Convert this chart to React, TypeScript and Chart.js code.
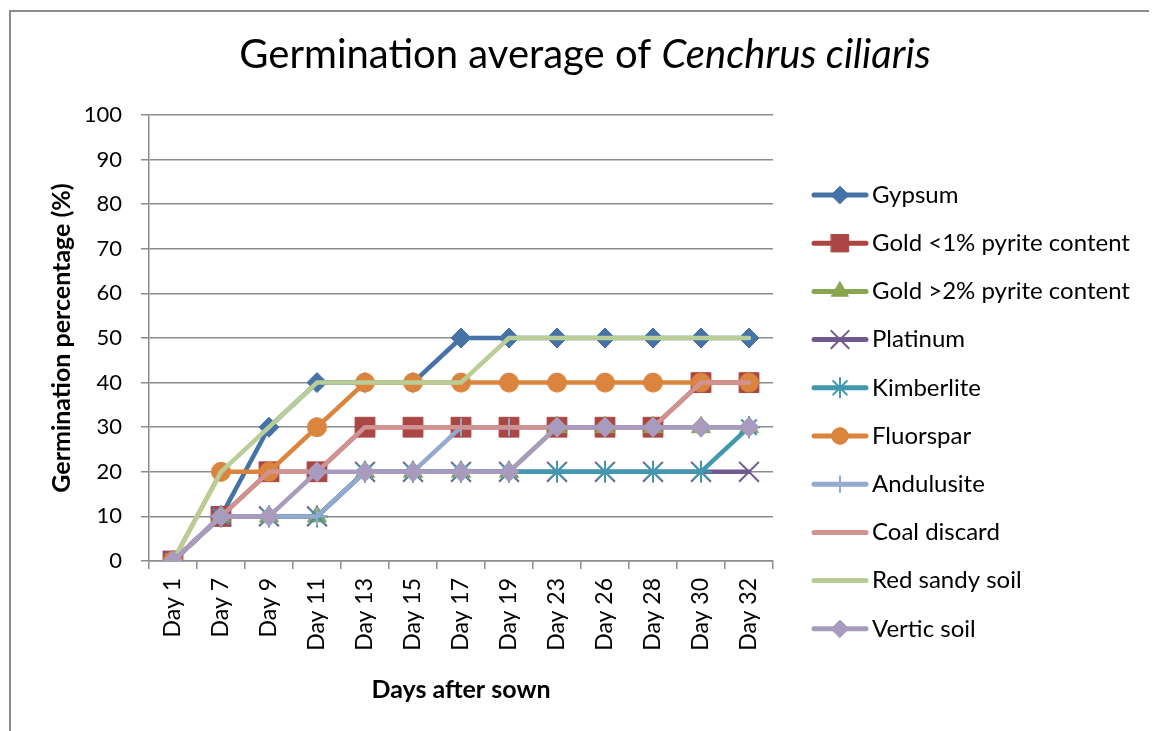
import React, { useEffect, useRef } from 'react';
import { Chart, registerables } from 'chart.js';
import { drawPoint } from 'chart.js/helpers';

Chart.register(...registerables);

const days = ['Day 1', 'Day 7', 'Day 9', 'Day 11', 'Day 13', 'Day 15', 'Day 17', 'Day 19', 'Day 23', 'Day 26', 'Day 28', 'Day 30', 'Day 32'];
const gypsum = [0, 10, 30, 40, 40, 40, 50, 50, 50, 50, 50, 50, 50];
const goldLow = [0, 10, 20, 20, 30, 30, 30, 30, 30, 30, 30, 40, 40];
const goldHigh = [0, 10, 10, 10, 20, 20, 20, 20, 30, 30, 30, 30, 30];
const platinum = [0, 10, 10, 10, 20, 20, 20, 20, 20, 20, 20, 20, 20];
const kimberlite = [0, 10, 10, 10, 20, 20, 20, 20, 20, 20, 20, 20, 30];
const fluorspar = [0, 20, 20, 30, 40, 40, 40, 40, 40, 40, 40, 40, 40];
const andulusite = [0, 10, 10, 10, 20, 20, 30, 30, 30, 30, 30, 30, 30];
const coalDiscard = [0, 10, 20, 20, 30, 30, 30, 30, 30, 30, 30, 40, 40];
const redSandy = [0, 20, 30, 40, 40, 40, 40, 50, 50, 50, 50, 50, 50];
const verticSoil = [0, 10, 10, 20, 20, 20, 20, 20, 30, 30, 30, 30, 30];
const yTicks = [0, 10, 20, 30, 40, 50, 60, 70, 80, 90, 100];

const seriesNames = ['Gypsum', 'Gold <1% pyrite content', 'Gold >2% pyrite content', 'Platinum', 'Kimberlite', 'Fluorspar', 'Andulusite', 'Coal discard', 'Red sandy soil', 'Vertic soil'];
const seriesValues = [gypsum, goldLow, goldHigh, platinum, kimberlite, fluorspar, andulusite, coalDiscard, redSandy, verticSoil];
const seriesColors = ['#4572A7', '#AA4643', '#89A54E', '#71588F', '#4198AF', '#DB843D', '#93A9CF', '#D19392', '#B9CD96', '#A99BBD'];
const seriesMarkers = ['rectRot', 'rect', 'triangle', 'crossRot', 'star', 'circle', 'cross', false, false, 'rectRot'];
const markerRadius = [10, 14, 11, 14, 11, 9.5, 9, 0, 0, 10];
const markerBorder = [1, 1, 1, 2, 2, 1, 2, 0, 0, 1];

const FONT = 'Lato, "Open Sans", sans-serif';

const decorPlugin = {
  id: 'decor',
  beforeDraw(chart: any) {
    const ctx = chart.ctx;
    ctx.save();
    ctx.fillStyle = '#ffffff';
    ctx.fillRect(0, 0, chart.width, chart.height);
    ctx.fillStyle = '#8c8c8c';
    ctx.fillRect(1, 2, 2, chart.height);
    ctx.fillRect(1, 2, chart.width, 2);
    ctx.restore();
  },
  afterDraw(chart: any) {
    const ctx = chart.ctx;
    ctx.save();
    // title
    const part1 = 'Germination average of ';
    const part2 = 'Cenchrus ciliaris';
    ctx.fillStyle = '#000000';
    ctx.textBaseline = 'alphabetic';
    ctx.font = `40px ${FONT}`;
    const w1 = ctx.measureText(part1).width;
    ctx.font = `italic 40px ${FONT}`;
    const w2 = ctx.measureText(part2).width;
    const cx = 577;
    const x0 = cx - (w1 + w2) / 2;
    ctx.font = `40px ${FONT}`;
    ctx.textAlign = 'left';
    ctx.fillText(part1, x0, 60);
    ctx.font = `italic 40px ${FONT}`;
    ctx.fillText(part2, x0 + w1, 60);

    // legend
    const ds = chart.data.datasets;
    for (let i = 0; i < ds.length; i++) {
      const y = 187 + i * 48.2;
      const d = ds[i];
      ctx.strokeStyle = d.borderColor;
      ctx.lineWidth = 5;
      ctx.lineCap = 'round';
      ctx.beginPath();
      ctx.moveTo(806, y);
      ctx.lineTo(858, y);
      ctx.stroke();
      if (d.pointStyle) {
        ctx.fillStyle = d.borderColor;
        ctx.strokeStyle = d.borderColor;
        ctx.lineWidth = d.pointBorderWidth;
        drawPoint(ctx, { pointStyle: d.pointStyle, radius: d.pointRadius * 0.88, rotation: 0, borderWidth: d.pointBorderWidth }, 832, y);
      }
      ctx.fillStyle = '#000000';
      ctx.font = `24px ${FONT}`;
      ctx.textBaseline = 'middle';
      ctx.textAlign = 'left';
      ctx.fillText(d.label, 864, y);
    }
    ctx.restore();
  },
};

export default function App() {
  const ref = useRef<HTMLCanvasElement>(null);
  useEffect(() => {
    document.body.style.overflow = 'hidden';
    const canvas = ref.current;
    if (!canvas) return;
    const n = seriesNames.length;
    const datasets = seriesNames.map((name, i) => ({
      label: name,
      data: seriesValues[i],
      borderColor: seriesColors[i],
      backgroundColor: seriesColors[i],
      pointBackgroundColor: seriesColors[i],
      pointBorderColor: seriesColors[i],
      borderWidth: 4.5,
      borderJoinStyle: 'round' as const,
      borderCapStyle: 'round' as const,
      pointStyle: seriesMarkers[i] as any,
      pointRadius: markerRadius[i],
      pointHoverRadius: markerRadius[i],
      pointBorderWidth: markerBorder[i],
      tension: 0,
      order: n - i,
    }));
    const chart = new Chart(canvas, {
      type: 'line',
      data: { labels: days, datasets },
      plugins: [decorPlugin],
      options: {
        responsive: false,
        animation: false,
        devicePixelRatio: 1,
        layout: { padding: { top: 107, right: 384, left: 0, bottom: 0 } },
        plugins: {
          legend: { display: false },
          title: { display: false },
          tooltip: { enabled: false },
        },
        scales: {
          x: {
            type: 'category',
            offset: true,
            afterFit: (s: any) => { s.height = 170; },
            grid: {
              offset: true,
              drawOnChartArea: false,
              drawTicks: true,
              tickLength: 8,
              color: '#8c8c8c',
              lineWidth: 1.5,
            },
            border: { color: '#8c8c8c', width: 1.5 },
            ticks: {
              autoSkip: false,
              minRotation: 90,
              maxRotation: 90,
              padding: 9,
              color: '#000000',
              font: { family: FONT, size: 23 },
            },
            title: {
              display: true,
              text: 'Days after sown',
              color: '#000000',
              font: { family: FONT, size: 25, weight: 'bold' },
              padding: { top: 0, bottom: 26 },
            },
          },
          y: {
            min: 0,
            max: 100,
            afterFit: (s: any) => { s.width = 141; },
            afterBuildTicks: (s: any) => { s.ticks = yTicks.map((v) => ({ value: v })); },
            grid: {
              color: '#8c8c8c',
              lineWidth: 1.5,
              tickLength: 8,
              drawTicks: true,
            },
            border: { color: '#8c8c8c', width: 1.5 },
            ticks: {
              padding: 19,
              color: '#000000',
              font: { family: FONT, size: 22 },
            },
            title: {
              display: true,
              text: 'Germination percentage (%)',
              color: '#000000',
              font: { family: FONT, size: 25, weight: 'bold' },
              padding: { top: 39, bottom: 0 },
            },
          },
        },
      },
    });
    return () => chart.destroy();
  }, []);
  return (
    <div style={{ width: 1149, height: 723 }}>
      <canvas ref={ref} width={1149} height={723} style={{ display: 'block', width: 1149, height: 723 }} />
    </div>
  );
}
